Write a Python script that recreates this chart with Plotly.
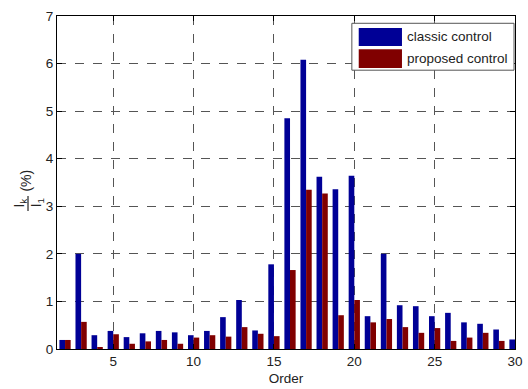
import plotly.graph_objects as go

orders = list(range(2, 31))
classic = [0.19, 2.0, 0.29, 0.38, 0.25, 0.33, 0.38, 0.35, 0.29, 0.38, 0.67, 1.03, 0.39, 1.78,
           4.85, 6.08, 3.62, 3.36, 3.64, 0.69, 2.0, 0.92, 0.90, 0.69, 0.76, 0.56, 0.53, 0.41, 0.20]
proposed = [0.19, 0.57, 0.04, 0.31, 0.11, 0.16, 0.19, 0.11, 0.24, 0.29, 0.26, 0.46, 0.32, 0.27,
            1.66, 3.35, 3.27, 0.71, 1.03, 0.56, 0.63, 0.46, 0.34, 0.44, 0.17, 0.24, 0.34, 0.17, 0.39]
series_names = ["classic control", "proposed control"]
colors = ["#000096", "#800000"]
x_ticks = [5, 10, 15, 20, 25, 30]

W, H = 528, 389
L, R, T, B = 57, 523, 15.7, 349.3
pw, ph = R - L, B - T

def px(x):
    return (x - L) / pw

def py(y):
    return (B - y) / ph

fig = go.Figure()
for name, vals, c in zip(series_names, [classic, proposed], colors):
    fig.add_trace(go.Bar(x=orders, y=vals, name=name, marker=dict(color=c, line=dict(width=0)),
                         showlegend=False))

font_main = "Liberation Sans, Arial, sans-serif"
fig.update_layout(
    width=W, height=H,
    margin=dict(l=L, r=W - R, t=T, b=H - B),
    paper_bgcolor="white", plot_bgcolor="white",
    barmode="group", bargap=0.3, bargroupgap=0,
    font=dict(family=font_main, size=13.5, color="#222"),
)
fig.update_xaxes(range=[1.5, 30], tickvals=x_ticks, ticks="inside", ticklen=5, tickcolor="black",
                 showline=True, linecolor="black", linewidth=1, mirror="ticks",
                 showgrid=True, gridcolor="#555", griddash="dash", gridwidth=1, zeroline=False,
                 ticklabeloverflow="allow",
                 title=dict(text="Order", standoff=5, font=dict(size=13.5)),
                 tickfont=dict(size=13.5, color="#222"))
fig.update_yaxes(range=[0, 7], dtick=1, ticks="inside", ticklen=5, tickcolor="black",
                 showline=True, linecolor="black", linewidth=1, mirror="ticks",
                 showgrid=True, gridcolor="#555", griddash="dash", gridwidth=1, zeroline=False,
                 tickfont=dict(size=13.5, color="#222"))

# y-axis label as a rotated fraction I_k / I_1 (%)
ann = [
    dict(text="I<sub>k</sub>", x=px(19), y=py(203)),
    dict(text="I<sub>1</sub>", x=px(37), y=py(203)),
    dict(text="(%)", x=px(25), y=py(181)),
]
for a in ann:
    fig.add_annotation(xref="paper", yref="paper", showarrow=False, textangle=-90,
                       xanchor="center", yanchor="middle", font=dict(size=14, color="#222"), **a)
fig.add_shape(type="line", xref="paper", yref="paper", x0=px(27.5), x1=px(27.5),
              y0=py(211), y1=py(196), line=dict(color="#222", width=1.2))

# legend box
fig.add_shape(type="rect", xref="paper", yref="paper", x0=px(357), x1=px(522), y0=py(70), y1=py(23),
              fillcolor="white", line=dict(color="#555", width=1))
sw = [(27.7, 45.7), (49, 67.7)]
for (y0, y1), c, name in zip(sw, colors, series_names):
    fig.add_shape(type="rect", xref="paper", yref="paper", x0=px(364), x1=px(408),
                  y0=py(y1), y1=py(y0), fillcolor=c, line=dict(width=0))
    fig.add_annotation(xref="paper", yref="paper", x=px(411), y=py((y0 + y1) / 2), text=name,
                       showarrow=False, xanchor="left", yanchor="middle",
                       font=dict(size=13.5, color="#222"))

fig.write_html("out.html")
